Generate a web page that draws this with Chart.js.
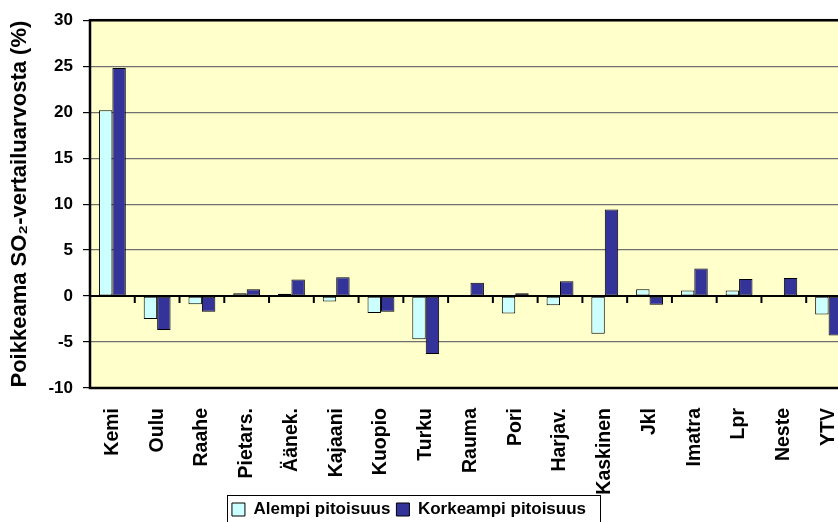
<!DOCTYPE html>
<html>
<head>
<meta charset="utf-8">
<script src="https://cdn.jsdelivr.net/npm/chart.js@4.4.1/dist/chart.umd.min.js"></script>
<style>
  html, body { margin: 0; padding: 0; background: #fff; overflow: hidden; }
  #wrap { width: 864px; height: 528px; }
</style>
</head>
<body>
<div id="wrap"><canvas id="chart" width="864" height="528"></canvas></div>
<script>
// Stations and deviations (%) from the SO2 reference value
const stations = ['Kemi', 'Oulu', 'Raahe', 'Pietars.', 'Äänek.', 'Kajaani', 'Kuopio', 'Turku',
    'Rauma', 'Pori', 'Harjav.', 'Kaskinen', 'Jkl', 'Imatra', 'Lpr', 'Neste', 'YTV'];
const lowerConc = [20.2, -2.5, -0.9, 0.3, 0.25, -0.6, -1.85, -4.7, 0.1, -1.9, -1.0, -4.1, 0.75, 0.6, 0.6, 0.1, -2.0];
const higherConc = [24.8, -3.7, -1.7, 0.75, 1.8, 2.05, -1.7, -6.3, 1.45, 0.3, 1.6, 9.4, -0.95, 3.0, 1.85, 1.95, -4.3];
const yTicks = [-10, -5, 0, 5, 10, 15, 20, 25, 30];

const fontFamily = '"Liberation Sans", Arial, sans-serif';

// Excel-ish plot frame: yellow fill, thick border, black zero line with ticks
const plotFrame = {
    id: 'plotFrame',
    beforeDraw(chart) {
        const {ctx, chartArea: a} = chart;
        ctx.save();
        ctx.fillStyle = '#FFFFCC';
        ctx.fillRect(a.left, a.top, a.right - a.left, a.bottom - a.top);
        ctx.restore();
    },
    afterDatasetsDraw(chart) {
        const {ctx, chartArea: a, scales} = chart;
        const zeroY = scales.y.getPixelForValue(0);
        ctx.save();
        ctx.strokeStyle = '#000';
        ctx.lineWidth = 2;
        ctx.beginPath();
        ctx.moveTo(a.left, zeroY);
        ctx.lineTo(a.right, zeroY);
        for (let i = 1; i <= stations.length; i++) {
            const x = (scales.x.getPixelForValue(i - 1) + scales.x.getPixelForValue(i)) / 2;
            ctx.moveTo(x, zeroY);
            ctx.lineTo(x, zeroY + 7);
        }
        ctx.stroke();
        ctx.lineWidth = 2.5;
        ctx.strokeRect(a.left, a.top, a.right - a.left, a.bottom - a.top);
        ctx.restore();
    },
    afterLayout(chart) {
        // nudge legend to the left like the original
        chart.legend.left -= 23;
        chart.legend.right -= 23;
    },
    afterDraw(chart) {
        const boxes = chart.legend.legendHitBoxes;
        if (!boxes || !boxes.length) return;
        const first = boxes[0], last = boxes[boxes.length - 1];
        const ctx = chart.ctx;
        ctx.save();
        ctx.strokeStyle = '#000';
        ctx.lineWidth = 1;
        ctx.strokeRect(Math.round(first.left - 5) + 0.5, Math.round(first.top - 6) + 0.5,
            Math.round(last.left + last.width - first.left + 19), 40);
        ctx.restore();
    }
};

new Chart(document.querySelector('#chart'), {
    type: 'bar',
    data: {
        labels: stations,
        datasets: [
            {
                label: 'Alempi pitoisuus',
                data: lowerConc,
                backgroundColor: '#CCFFFF',
                borderColor: '#000',
                borderWidth: 1,
                borderSkipped: false
            },
            {
                label: 'Korkeampi pitoisuus',
                data: higherConc,
                backgroundColor: '#333399',
                borderColor: '#000',
                borderWidth: 1,
                borderSkipped: false
            }
        ]
    },
    options: {
        responsive: false,
        animation: false,
        layout: { padding: { top: 17, right: 0, left: 0, bottom: 0 } },
        datasets: {
            bar: { categoryPercentage: 0.6, barPercentage: 1.0 }
        },
        plugins: {
            legend: {
                position: 'bottom',
                labels: {
                    color: '#000',
                    font: { family: fontFamily, size: 17, weight: 'bold' },
                    boxWidth: 13,
                    boxHeight: 13,
                    padding: 6
                }
            },
            tooltip: { enabled: false }
        },
        scales: {
            x: {
                grid: { display: false },
                border: { display: false },
                ticks: {
                    color: '#000',
                    font: { family: fontFamily, size: 19.5, weight: 'bold' },
                    minRotation: 90,
                    maxRotation: 90,
                    padding: 12,
                    autoSkip: false
                },
                afterFit(scale) { scale.height = 107; }
            },
            y: {
                min: -10,
                max: 30,
                afterBuildTicks(scale) { scale.ticks = yTicks.map(v => ({value: v})); },
                grid: {
                    color: '#707070',
                    tickColor: '#000',
                    tickLength: 7,
                    lineWidth: 1.2
                },
                border: { display: false },
                ticks: {
                    color: '#000',
                    font: { family: fontFamily, size: 17, weight: 'bold' },
                    padding: 10
                },
                title: {
                    display: true,
                    text: 'Poikkeama SO₂-vertailuarvosta (%)',
                    color: '#000',
                    font: { family: fontFamily, size: 22, weight: 'bold' },
                    padding: { top: 7, bottom: 0 }
                },
                afterFit(scale) { scale.width = 90; }
            }
        }
    },
    plugins: [plotFrame]
});
</script>
</body>
</html>
